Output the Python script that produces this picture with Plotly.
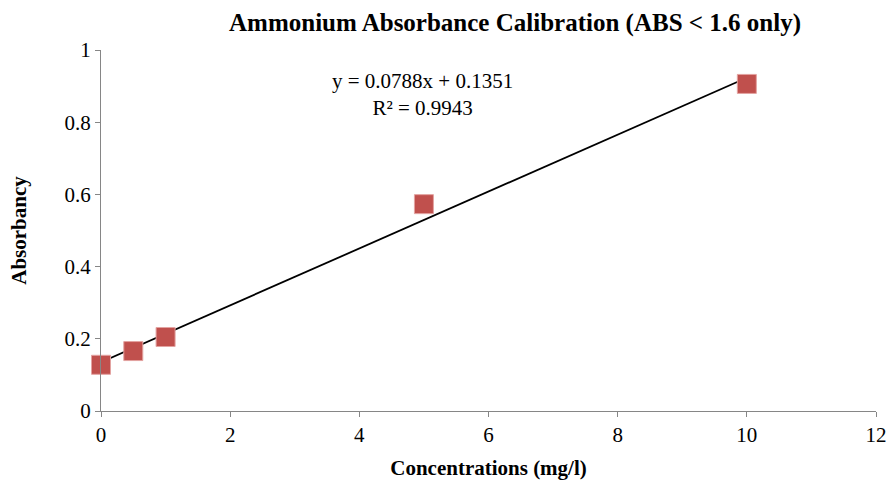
import plotly.graph_objects as go

# Calibration standards
concentration = [0, 0.5, 1, 5, 10]
absorbance = [0.128, 0.166, 0.205, 0.573, 0.906]

# Linear trendline coefficients
slope = 0.0788
intercept = 0.1351
r_squared = 0.9943

x_ticks = [0, 2, 4, 6, 8, 10, 12]
y_ticks = [0, 0.2, 0.4, 0.6, 0.8, 1]

fit_x = [min(concentration), max(concentration)]
fit_y = [slope * v + intercept for v in fit_x]

font_family = "Liberation Serif, Times New Roman, serif"
axis_grey = "#868686"

fig = go.Figure()
fig.add_trace(go.Scatter(
    x=fit_x, y=fit_y, mode="lines",
    line=dict(color="black", width=1.8),
    cliponaxis=False, showlegend=False, hoverinfo="skip",
))
fig.add_trace(go.Scatter(
    x=concentration, y=absorbance, mode="markers",
    marker=dict(symbol="square", size=19, color="#C0504D",
                line=dict(color="#E3A3A1", width=1)),
    cliponaxis=False, showlegend=False,
))

fig.add_annotation(
    x=0.415, y=0.878, xref="paper", yref="paper",
    xanchor="center", yanchor="middle",
    text=f"y = {slope}x + {intercept}<br>R² = {r_squared}",
    showarrow=False, align="center",
    font=dict(family=font_family, size=21, color="black"),
)

fig.update_layout(
    width=891, height=486,
    margin=dict(l=101, r=15, t=50, b=75),
    paper_bgcolor="white", plot_bgcolor="white",
    font=dict(family=font_family, size=21, color="black"),
    title=dict(
        text="<b>Ammonium Absorbance Calibration (ABS < 1.6 only)</b>",
        x=515 / 891, xanchor="center", y=0.955, yanchor="middle",
        font=dict(family=font_family, size=25, color="black"),
    ),
    xaxis=dict(
        range=[0, 12], tickvals=x_ticks, ticktext=[str(v) for v in x_ticks],
        showgrid=False, zeroline=False, showline=True, automargin=False,
        linecolor=axis_grey, linewidth=1.3,
        ticks="outside", ticklen=5, tickcolor=axis_grey, tickwidth=1.3,
        tickfont=dict(family=font_family, size=21),
        title=dict(text="<b>Concentrations (mg/l)</b>", standoff=13,
                   font=dict(family=font_family, size=21)),
    ),
    yaxis=dict(
        range=[0, 1], tickvals=y_ticks,
        ticktext=["0", "0.2", "0.4", "0.6", "0.8", "1"],
        showgrid=False, zeroline=False, showline=True, automargin=False,
        linecolor=axis_grey, linewidth=1.3,
        ticks="outside", ticklen=5, tickcolor=axis_grey, tickwidth=1.3,
        tickfont=dict(family=font_family, size=21),
        title=dict(text="<b>Absorbancy</b>", standoff=32,
                   font=dict(family=font_family, size=21)),
    ),
)

fig.write_html("out.html")
